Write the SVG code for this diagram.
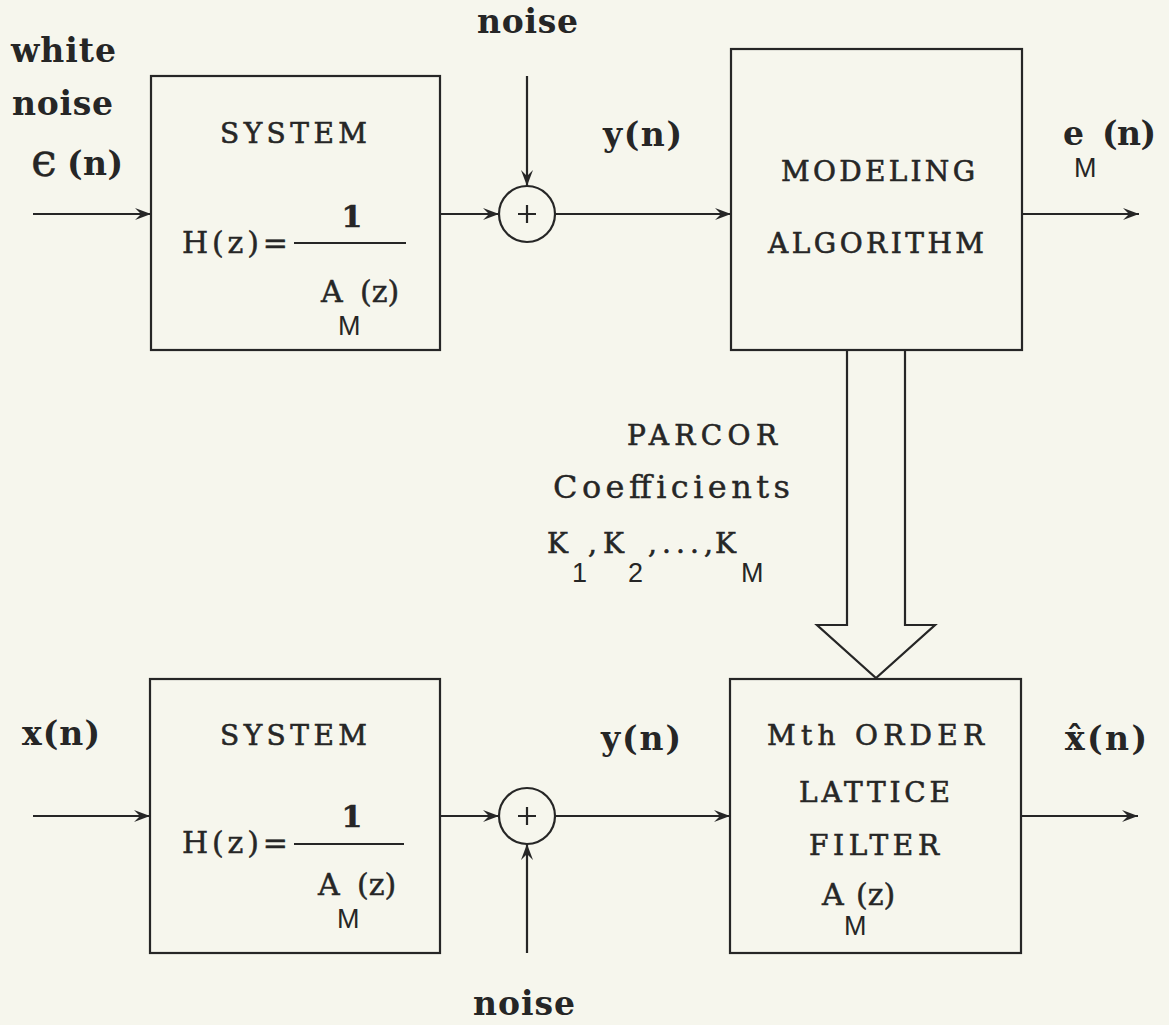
<svg xmlns="http://www.w3.org/2000/svg" width="1169" height="1025" viewBox="0 0 1169 1025">
<defs>
<style>
.bg{fill:#f6f6ed}
.box{fill:none;stroke:#262626;stroke-width:2.2}
.ln{fill:none;stroke:#262626;stroke-width:2.2}
.cap{font-family:"DejaVu Serif","Liberation Serif",serif;font-size:28px;fill:#262626;stroke:#262626;stroke-width:0.6}
.eq{font-family:"DejaVu Serif","Liberation Serif",serif;font-size:30px;fill:#262626;stroke:#262626;stroke-width:0.5}
.lab{font-family:"DejaVu Serif","Liberation Serif",serif;font-size:33px;font-weight:bold;fill:#262626}
.labr{font-family:"DejaVu Serif","Liberation Serif",serif;font-size:32px;fill:#262626;stroke:#262626;stroke-width:0.4}
.sub{font-family:"Liberation Sans","DejaVu Sans",sans-serif;font-size:27px;fill:#262626}
</style>
<marker id="ah" viewBox="-17 -7 18 14" refX="0" refY="0" markerWidth="18" markerHeight="14" markerUnits="userSpaceOnUse" orient="auto">
<path d="M0,0 L-16,-6 L-10,0 L-16,6 Z" fill="#262626"/>
</marker>
</defs>
<rect class="bg" x="0" y="0" width="1169" height="1025"/>

<g id="connectors">
<line class="ln" x1="33" y1="214" x2="151" y2="214" marker-end="url(#ah)"/>
<line class="ln" x1="440" y1="214" x2="499" y2="214" marker-end="url(#ah)"/>
<line class="ln" x1="527" y1="76" x2="527" y2="186" marker-end="url(#ah)"/>
<line class="ln" x1="555" y1="214" x2="731" y2="214" marker-end="url(#ah)"/>
<line class="ln" x1="1022" y1="214" x2="1139" y2="214" marker-end="url(#ah)"/>
<polyline class="ln" points="847,350 847,625 817,625 876,678 935,625 905,625 905,350"/>
<line class="ln" x1="33" y1="816" x2="150" y2="816" marker-end="url(#ah)"/>
<line class="ln" x1="440" y1="816" x2="499" y2="816" marker-end="url(#ah)"/>
<line class="ln" x1="527" y1="953" x2="527" y2="844" marker-end="url(#ah)"/>
<line class="ln" x1="555" y1="816" x2="730" y2="816" marker-end="url(#ah)"/>
<line class="ln" x1="1021" y1="816" x2="1138" y2="816" marker-end="url(#ah)"/>
</g>

<g id="system1">
<rect class="box" x="151" y="76" width="289" height="274"/>
<text class="cap" x="220" y="143" textLength="147" lengthAdjust="spacing">SYSTEM</text>
<text class="eq" x="182" y="253" textLength="106" lengthAdjust="spacing">H(z)=</text>
<line class="ln" x1="294" y1="243" x2="406" y2="243"/>
<text class="eq" x="352" y="227" text-anchor="middle" font-weight="bold">1</text>
<text class="eq" x="321" y="302">A</text>
<text class="eq" x="360" y="302">(z)</text>
<text class="sub" x="338" y="335">M</text>
</g>

<g id="sum1">
<circle class="ln" cx="527" cy="214" r="28"/>
<path class="ln" d="M518,214 H536 M527,205 V223" stroke-width="2.6"/>
</g>

<g id="modeling">
<rect class="box" x="731" y="49" width="291" height="301"/>
<text class="cap" x="781" y="181" textLength="194" lengthAdjust="spacing">MODELING</text>
<text class="cap" x="768" y="253" textLength="216" lengthAdjust="spacing">ALGORITHM</text>
</g>

<g id="system2">
<rect class="box" x="150" y="679" width="290" height="274"/>
<text class="cap" x="220" y="745" textLength="147" lengthAdjust="spacing">SYSTEM</text>
<text class="eq" x="182" y="853" textLength="106" lengthAdjust="spacing">H(z)=</text>
<line class="ln" x1="294" y1="844" x2="404" y2="844"/>
<text class="eq" x="352" y="827" text-anchor="middle" font-weight="bold">1</text>
<text class="eq" x="318" y="895">A</text>
<text class="eq" x="357" y="895">(z)</text>
<text class="sub" x="337" y="928">M</text>
</g>

<g id="sum2">
<circle class="ln" cx="527" cy="816" r="28"/>
<path class="ln" d="M518,816 H536 M527,807 V825" stroke-width="2.6"/>
</g>

<g id="lattice">
<rect class="box" x="730" y="679" width="291" height="274"/>
<text class="cap" x="767" y="745" textLength="217" lengthAdjust="spacing">Mth ORDER</text>
<text class="cap" x="799" y="802" textLength="151" lengthAdjust="spacing">LATTICE</text>
<text class="cap" x="809" y="855" textLength="130" lengthAdjust="spacing">FILTER</text>
<text class="eq" x="822" y="905">A</text>
<text class="eq" x="856" y="905">(z)</text>
<text class="sub" x="844" y="935">M</text>
</g>

<g id="labels">
<text class="lab" x="11" y="62" textLength="105" lengthAdjust="spacing">white</text>
<text class="lab" x="12" y="115" textLength="101" lengthAdjust="spacing">noise</text>
<text class="labr" x="31" y="176" style="font-size:46px">ϵ</text>
<text class="lab" x="67" y="175" textLength="56" lengthAdjust="spacing">(n)</text>
<text class="lab" x="477" y="33" textLength="101" lengthAdjust="spacing">noise</text>
<text class="lab" x="603" y="146" textLength="79" lengthAdjust="spacing">y(n)</text>
<text class="lab" x="1063" y="145">e</text>
<text class="sub" x="1074" y="177">M</text>
<text class="lab" x="1102" y="145" textLength="54" lengthAdjust="spacing">(n)</text>
<text class="cap" x="627" y="445" textLength="150" lengthAdjust="spacing">PARCOR</text>
<text class="labr" x="553" y="498" textLength="237" lengthAdjust="spacing">Coefficients</text>
<text class="cap" x="547" y="553">K</text>
<text class="sub" x="572" y="582">1</text>
<text class="cap" x="588" y="553">,</text>
<text class="cap" x="603" y="553">K</text>
<text class="sub" x="628" y="582">2</text>
<text class="cap" x="648" y="553" textLength="65" lengthAdjust="spacing">,...,</text>
<text class="cap" x="715" y="553">K</text>
<text class="sub" x="741" y="582">M</text>
<text class="lab" x="22" y="745" textLength="78" lengthAdjust="spacing">x(n)</text>
<text class="lab" x="601" y="750" textLength="80" lengthAdjust="spacing">y(n)</text>
<text class="lab" x="1065" y="750" textLength="82" lengthAdjust="spacing">x̂(n)</text>
<text class="lab" x="473" y="1015" textLength="102" lengthAdjust="spacing">noise</text>
</g>
</svg>
